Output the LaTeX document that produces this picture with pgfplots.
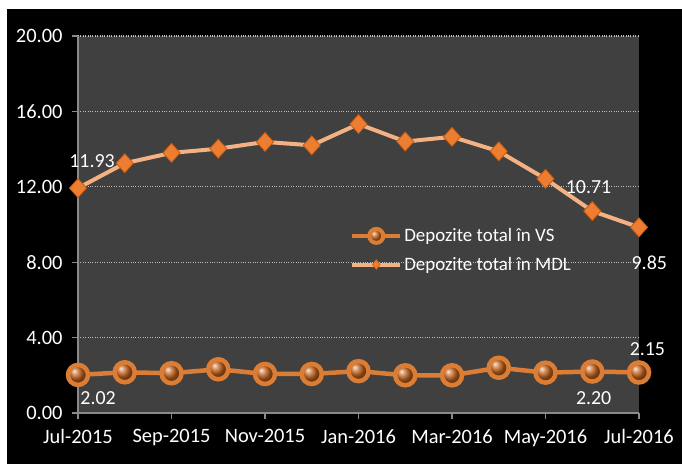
\documentclass[border=0pt]{standalone}
\usepackage{pgfplots}
\pgfplotsset{compat=1.18}
\usepackage{fontspec}
\setmainfont{Carlito}
\definecolor{plotbg}{HTML}{404040}
\definecolor{gridc}{HTML}{BFBFBF}
\definecolor{axc}{HTML}{8A8A8A}
\definecolor{vsline}{HTML}{DB7D35}
\definecolor{vsball}{HTML}{C0601A}
\definecolor{mdlline}{HTML}{F4B183}
\definecolor{mdlmark}{HTML}{ED7D31}
\definecolor{mdldraw}{HTML}{C55A11}
\begin{document}
\begin{tikzpicture}[x=1bp,y=1bp]
\useasboundingbox (0,0) rectangle (682,464);
\fill[white] (0,0) rectangle (682,464);
\fill[black] (7,0) rectangle (682,455);
\begin{axis}[
  at={(78bp,51bp)}, anchor=south west,
  scale only axis, width=561bp, height=377bp,
  xmin=0, xmax=12, ymin=0, ymax=20,
  clip=false,
  axis background/.style={fill=plotbg},
  axis x line*=bottom, axis y line*=left,
  axis line style={axc, line width=1.2bp},
  every tick/.style={axc, line width=1.2bp},
  tick align=outside, major tick length=6bp,
  xtick={0,2,...,12},
  xticklabels={Jul-2015,Sep-2015,Nov-2015,Jan-2016,Mar-2016,May-2016,Jul-2016},
  ytick={0,4,...,20},
  yticklabel={\pgfmathprintnumber[fixed,fixed zerofill,precision=2]{\tick}},
  /pgf/number format/assume math mode=true,
  ticklabel style={font=\fontsize{20.5}{22}\selectfont, text=white},
  xticklabel style={yshift=-7bp},
  yticklabel style={xshift=-6bp},
  ymajorgrids,
  grid style={gridc, dotted, line width=1.2bp},
  legend style={at={(rel axis cs:0.485,0.495)}, anchor=north west, draw=none, fill=none,
    font=\fontsize{19}{21}\selectfont, text=white, row sep=10bp, inner sep=0pt,
    /tikz/every even column/.append style={column sep=4bp}},
  legend image code/.code={\draw[mark repeat=2,mark phase=2] plot coordinates {(0bp,0bp) (24bp,0bp) (48bp,0bp)};},
  legend cell align=left,
]
\addlegendimage{vsline, line width=4bp, mark=ball, mark size=7bp, mark options={ball color=vsball}}
\addlegendentry{Depozite total în VS}
\addlegendimage{mdlline, line width=4bp, mark=diamond*, mark size=5bp, mark options={fill=mdlmark, draw=mdldraw, line width=0.6bp}}
\addlegendentry{Depozite total în MDL}
\addplot[forget plot, vsline, line width=4.5bp, mark=ball, mark size=10bp, mark options={ball color=vsball}]
 coordinates {(0,2.02) (1,2.16) (2,2.11) (3,2.32) (4,2.07) (5,2.07) (6,2.22) (7,2.0) (8,2.0) (9,2.40) (10,2.14) (11,2.20) (12,2.15)};
\addplot[forget plot, mdlline, line width=4bp, mark=diamond*, mark size=9.5bp, mark options={fill=mdlmark, draw=mdldraw, line width=0.8bp, xscale=1.2}]
 coordinates {(0,11.93) (1,13.25) (2,13.8) (3,14.02) (4,14.38) (5,14.2) (6,15.33) (7,14.4) (8,14.65) (9,13.88) (10,12.42) (11,10.71) (12,9.85)};
\node[text=white, font=\fontsize{20}{22}\selectfont] at (axis cs:0.3,13.37) {11.93};
\node[text=white, font=\fontsize{20}{22}\selectfont] at (axis cs:10.92,12.0) {10.71};
\node[text=white, font=\fontsize{20}{22}\selectfont] at (axis cs:12.22,7.95) {9.85};
\node[text=white, font=\fontsize{20}{22}\selectfont] at (axis cs:0.43,0.8) {2.02};
\node[text=white, font=\fontsize{20}{22}\selectfont] at (axis cs:11.03,0.8) {2.20};
\node[text=white, font=\fontsize{20}{22}\selectfont] at (axis cs:12.18,3.4) {2.15};
\end{axis}
\end{tikzpicture}
\end{document}
